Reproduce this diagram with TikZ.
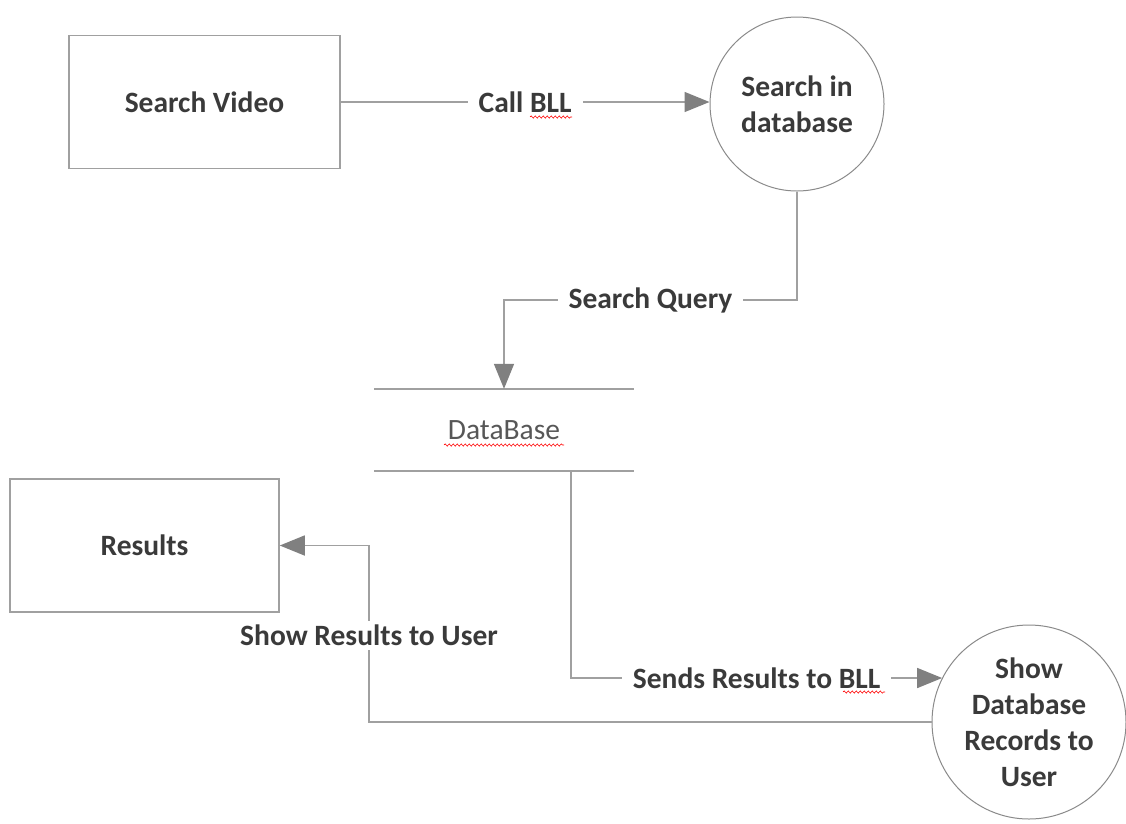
\documentclass[tikz,border=0pt]{standalone}
\usepackage{fontspec}
\setmainfont{Carlito}
\usetikzlibrary{arrows.meta,decorations.pathmorphing}
\definecolor{txt}{HTML}{3A3A3A}
\definecolor{edge}{HTML}{A0A0A0}
\definecolor{tip}{HTML}{808080}
\definecolor{ring}{HTML}{8A8A8A}
\begin{document}
\begin{tikzpicture}[x=1pt,y=-1pt,
  every node/.style={text=txt,font=\fontsize{29.5}{36}\selectfont\bfseries},
  entity/.style={draw=edge,line width=1.5pt,rectangle,minimum width=271pt,minimum height=133pt,inner sep=0pt},
  process/.style={draw=ring,line width=1pt,circle,inner sep=0pt,align=center},
  flow/.style={draw=edge,line width=1.5pt,-{Triangle[length=25pt,width=20pt,fill=tip,color=tip]}},
  lbl/.style={fill=white,inner xsep=11pt,inner ysep=4pt},
  spell/.style={red,line width=0.6pt,decorate,decoration={snake,amplitude=1.1pt,segment length=4pt}}]
\useasboundingbox (0,0) rectangle (1126,823);

% processes and entities
\node[entity] (sv) at (204.5,102) {Search Video};
\node[entity,minimum width=269pt] (res) at (144.5,545.5) {Results};
\node[process,minimum size=174pt] (sdb) at (797,104) {Search in\\database};
\node[process,minimum size=194pt] (shw) at (1029,722) {Show\\Database\\Records to\\User};

% data store
\node[minimum width=260pt,minimum height=82pt,inner sep=0pt] (db) at (504,430)
  {\fontsize{29.5}{36}\selectfont\mdseries\color{txt!85!white}DataBase};
\draw[edge,line width=1.5pt] (db.north west) -- (db.north east);
\draw[edge,line width=1.5pt] (db.south west) -- (db.south east);

% bend points of the connectors
\coordinate (qbend) at (504,300);
\coordinate (sbend) at (571,678);
\coordinate (rbend) at (369,545.5);

% data flows
\draw[flow] (sv.east) -- node[lbl] (l1) {Call BLL} (sv.east -| sdb.west);
\draw[flow] (sdb.south) |- node[lbl,pos=0.75] (l2) {Search Query} (qbend) -- (db.north);
\draw[flow] (db.south -| sbend) -- (sbend) -- node[lbl] (l3) {Sends Results to BLL} (sbend -| shw.153);
\draw[flow] (shw.west) -| node[lbl,pos=0.745] (l4) {Show Results to User} (rbend) -- (res.east);

% spelling marks under words
\draw[spell] (530,117) -- (572,117);
\draw[spell] (843,692) -- (885,692);
\draw[spell] (444,445) -- (564,445);
\end{tikzpicture}
\end{document}
